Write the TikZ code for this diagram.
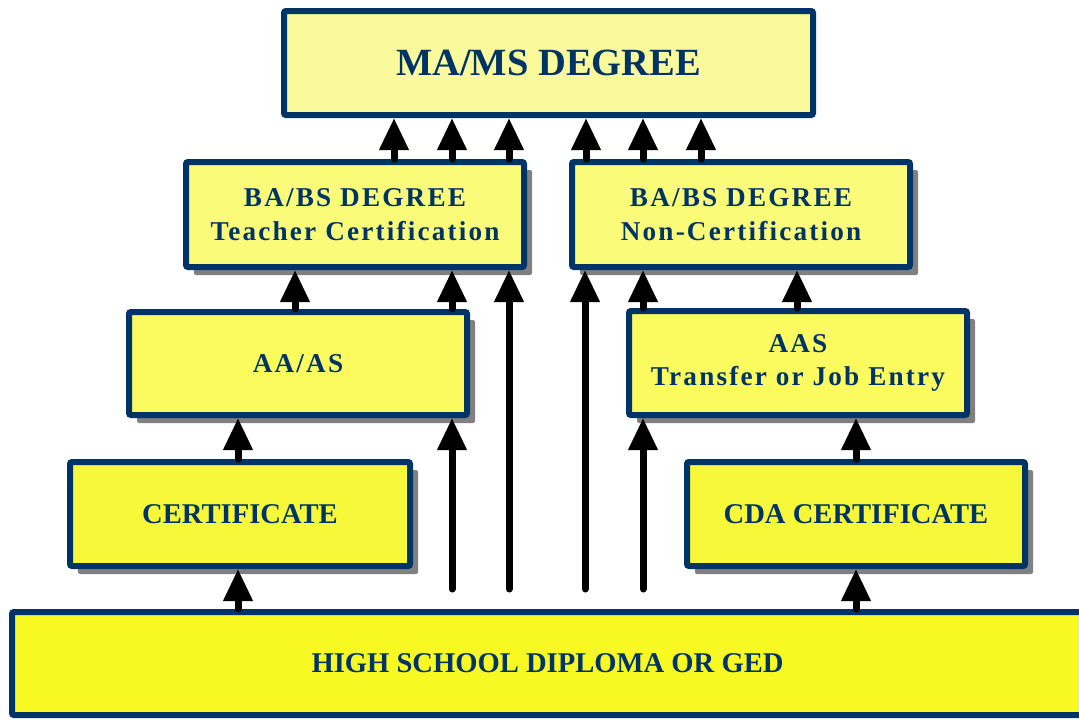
\documentclass[tikz,border=0pt]{standalone}
\usepackage{fontspec}
\setmainfont{Liberation Serif}
\newfontfamily\spacedfont[LetterSpace=8]{Liberation Serif}
\usetikzlibrary{arrows.meta,shadows}
\definecolor{navy}{RGB}{0,51,102}
\definecolor{shadowgray}{RGB}{128,128,128}
\definecolor{fillA}{RGB}{250,250,156}
\definecolor{fillB}{RGB}{251,251,122}
\definecolor{fillC}{RGB}{251,250,94}
\definecolor{fillD}{RGB}{248,248,58}
\definecolor{fillE}{RGB}{248,248,34}
\tikzset{
  box/.style={draw=navy, line width=6pt, rounded corners=2pt, text=navy,
    align=center, inner sep=0pt,
    font=\bfseries\fontsize{28.6}{33}\selectfont},
  spacedbox/.style={box, font=\spacedfont\bfseries\fontsize{27.2}{33.5}\selectfont},
  shad/.style={drop shadow={shadow xshift=8pt, shadow yshift=-8pt, fill=shadowgray, opacity=1}},
  arr/.style={draw=black, line width=7pt, line cap=round, -{Triangle[width=28pt,length=32pt]}},
}
\begin{document}
\begin{tikzpicture}[x=1pt,y=-1pt]
\useasboundingbox (0,0) rectangle (1079,721);
% boxes (minimum size = outer size - line width)
\node[box, fill=fillA, minimum width=529, minimum height=104,
      font=\bfseries\fontsize{38.5}{40}\selectfont] (ma) at (548.5,63) {MA/MS DEGREE};
\node[spacedbox, shad, fill=fillB, minimum width=338, minimum height=105] (bat) at (355,214.5)
      {BA/BS DEGREE\\Teacher Certification};
\node[spacedbox, shad, fill=fillB, minimum width=338, minimum height=105] (ban) at (741,214.5)
      {BA/BS DEGREE\\Non-Certification};
\node[spacedbox, shad, fill=fillC, minimum width=338, minimum height=103] (aa) at (298,363.5)
      {AA/AS};
\node[spacedbox, shad, fill=fillC, minimum width=338, minimum height=104] (aas) at (798,363)
      {AAS\\Transfer or Job Entry};
\node[box, shad, fill=fillD, minimum width=340, minimum height=104] (cert) at (240,514)
      {CERTIFICATE};
\node[box, shad, fill=fillD, minimum width=338, minimum height=104] (cda) at (856,514)
      {CDA CERTIFICATE};
\node[box, fill=fillE, minimum width=1071, minimum height=103] (hs) at (547.5,663.5)
      {HIGH SCHOOL DIPLOMA OR GED};
% free ends of the long arrows
\coordinate (f1) at (452,589);
\coordinate (f2) at (509,589);
\coordinate (f3) at (585,589);
\coordinate (f4) at (643,589);
% helper columns
\coordinate (c1) at (238,0);
\coordinate (c2) at (295,0);
\coordinate (c3) at (797,0);
\coordinate (c4) at (856,0);
\coordinate (t1) at (394,0);
\coordinate (t2) at (452,0);
\coordinate (t3) at (509,0);
\coordinate (t4) at (586,0);
\coordinate (t5) at (643,0);
\coordinate (t6) at (701,0);
% arrows
\draw[arr] (hs.north -| c1) -- (cert.south -| c1);
\draw[arr] (cert.north -| c1) -- (aa.south -| c1);
\draw[arr] (aa.north -| c2) -- (bat.south -| c2);
\draw[arr] (f1) -- (aa.south -| f1);
\draw[arr] (aa.north -| f1) -- (bat.south -| f1);
\draw[arr] (f2) -- (bat.south -| f2);
\draw[arr] (f3) -- (ban.south -| f3);
\draw[arr] (f4) -- (aas.south -| f4);
\draw[arr] (aas.north -| f4) -- (ban.south -| f4);
\draw[arr] (aas.north -| c3) -- (ban.south -| c3);
\draw[arr] (cda.north -| c4) -- (aas.south -| c4);
\draw[arr] (hs.north -| c4) -- (cda.south -| c4);
\draw[arr] (bat.north -| t1) -- (ma.south -| t1);
\draw[arr] (bat.north -| t2) -- (ma.south -| t2);
\draw[arr] (bat.north -| t3) -- (ma.south -| t3);
\draw[arr] (ban.north -| t4) -- (ma.south -| t4);
\draw[arr] (ban.north -| t5) -- (ma.south -| t5);
\draw[arr] (ban.north -| t6) -- (ma.south -| t6);
\end{tikzpicture}
\end{document}
